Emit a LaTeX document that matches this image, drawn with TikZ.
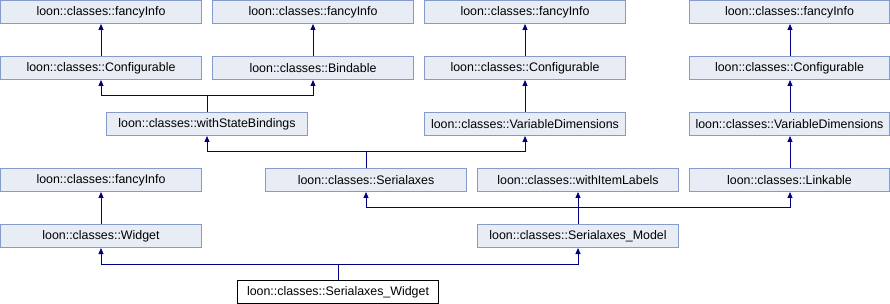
\documentclass[tikz,border=0pt]{standalone}
\usepackage{fontspec}
\setmainfont{Liberation Sans}
\usetikzlibrary{arrows.meta}
\definecolor{boxfill}{RGB}{232,236,244}
\definecolor{boxline}{RGB}{132,155,204}
\definecolor{inhline}{RGB}{0,0,128}
\tikzset{
  cls/.style={draw=boxline, fill=boxfill, line width=1pt, minimum width=201pt,
    minimum height=23pt, inner sep=0pt, font=\fontsize{12.4}{14}\selectfont},
  focus/.style={cls, draw=black, fill=white},
  inh/.style={draw=inhline, line width=1pt, -{Triangle[length=6pt,width=5pt]}},
  bus/.style={draw=inhline, line width=1pt}
}
\begin{document}
\begin{tikzpicture}[x=1pt,y=1pt]
\useasboundingbox (0,0) rectangle (890,-304);
% row 1
\node[cls] (a1) at (101,-12) {loon::classes::fancyInfo};
\node[cls] (a2) at (313,-12) {loon::classes::fancyInfo};
\node[cls] (a3) at (525,-12) {loon::classes::fancyInfo};
\node[cls, minimum width=200pt] (a4) at (789.5,-12) {loon::classes::fancyInfo};
% row 2
\node[cls] (b1) at (101,-68) {loon::classes::Configurable};
\node[cls] (b2) at (313,-68) {loon::classes::Bindable};
\node[cls] (b3) at (525,-68) {loon::classes::Configurable};
\node[cls, minimum width=200pt] (b4) at (789.5,-68) {loon::classes::Configurable};
% row 3
\node[cls] (c1) at (207,-124) {loon::classes::withStateBindings};
\node[cls] (c2) at (525,-124) {loon::classes::VariableDimensions};
\node[cls, minimum width=200pt] (c3) at (789.5,-124) {loon::classes::VariableDimensions};
% row 4
\node[cls] (d1) at (101,-180) {loon::classes::fancyInfo};
\node[cls] (d2) at (366,-180) {loon::classes::Serialaxes};
\node[cls] (d3) at (578,-180) {loon::classes::withItemLabels};
\node[cls, minimum width=200pt] (d4) at (789.5,-180) {loon::classes::Linkable};
% row 5
\node[cls] (e1) at (101,-236) {loon::classes::Widget};
\node[cls] (e2) at (578,-236) {loon::classes::Serialaxes\_Model};
% row 6
\node[focus] (f) at (338,-292) {loon::classes::Serialaxes\_Widget};

% single inheritance
\draw[inh] (b1.north) -- (a1.south);
\draw[inh] (b2.north) -- (a2.south);
\draw[inh] (b3.north) -- (a3.south);
\draw[inh] ([xshift=0.5pt]b4.north) -- ([xshift=0.5pt]a4.south);
\draw[inh] (c2.north) -- (b3.south);
\draw[inh] ([xshift=0.5pt]c3.north) -- ([xshift=0.5pt]b4.south);
\draw[inh] ([xshift=0.5pt]d4.north) -- ([xshift=0.5pt]c3.south);
\draw[inh] (e1.north) -- (d1.south);

% withStateBindings -> Configurable, Bindable
\coordinate (jc1) at ([yshift=16pt]c1.north);
\draw[bus] (c1.north) -- (jc1);
\draw[inh] (jc1) -| (b1.south);
\draw[inh] (jc1) -| (b2.south);

% Serialaxes -> withStateBindings, VariableDimensions
\coordinate (jd2) at ([yshift=16pt]d2.north);
\draw[bus] (d2.north) -- (jd2);
\draw[inh] (jd2) -| (c1.south);
\draw[inh] (jd2) -| (c2.south);

% Serialaxes_Model -> Serialaxes, withItemLabels, Linkable
\coordinate (je2) at ([yshift=16pt]e2.north);
\draw[inh] (e2.north) -- (d3.south);
\draw[inh] (je2) -| (d2.south);
\draw[inh] (je2) -| ([xshift=0.5pt]d4.south);

% Serialaxes_Widget -> Widget, Serialaxes_Model
\coordinate (jf) at ([yshift=16pt]f.north);
\draw[bus] (f.north) -- (jf);
\draw[inh] (jf) -| (e1.south);
\draw[inh] (jf) -| (e2.south);
\end{tikzpicture}
\end{document}
